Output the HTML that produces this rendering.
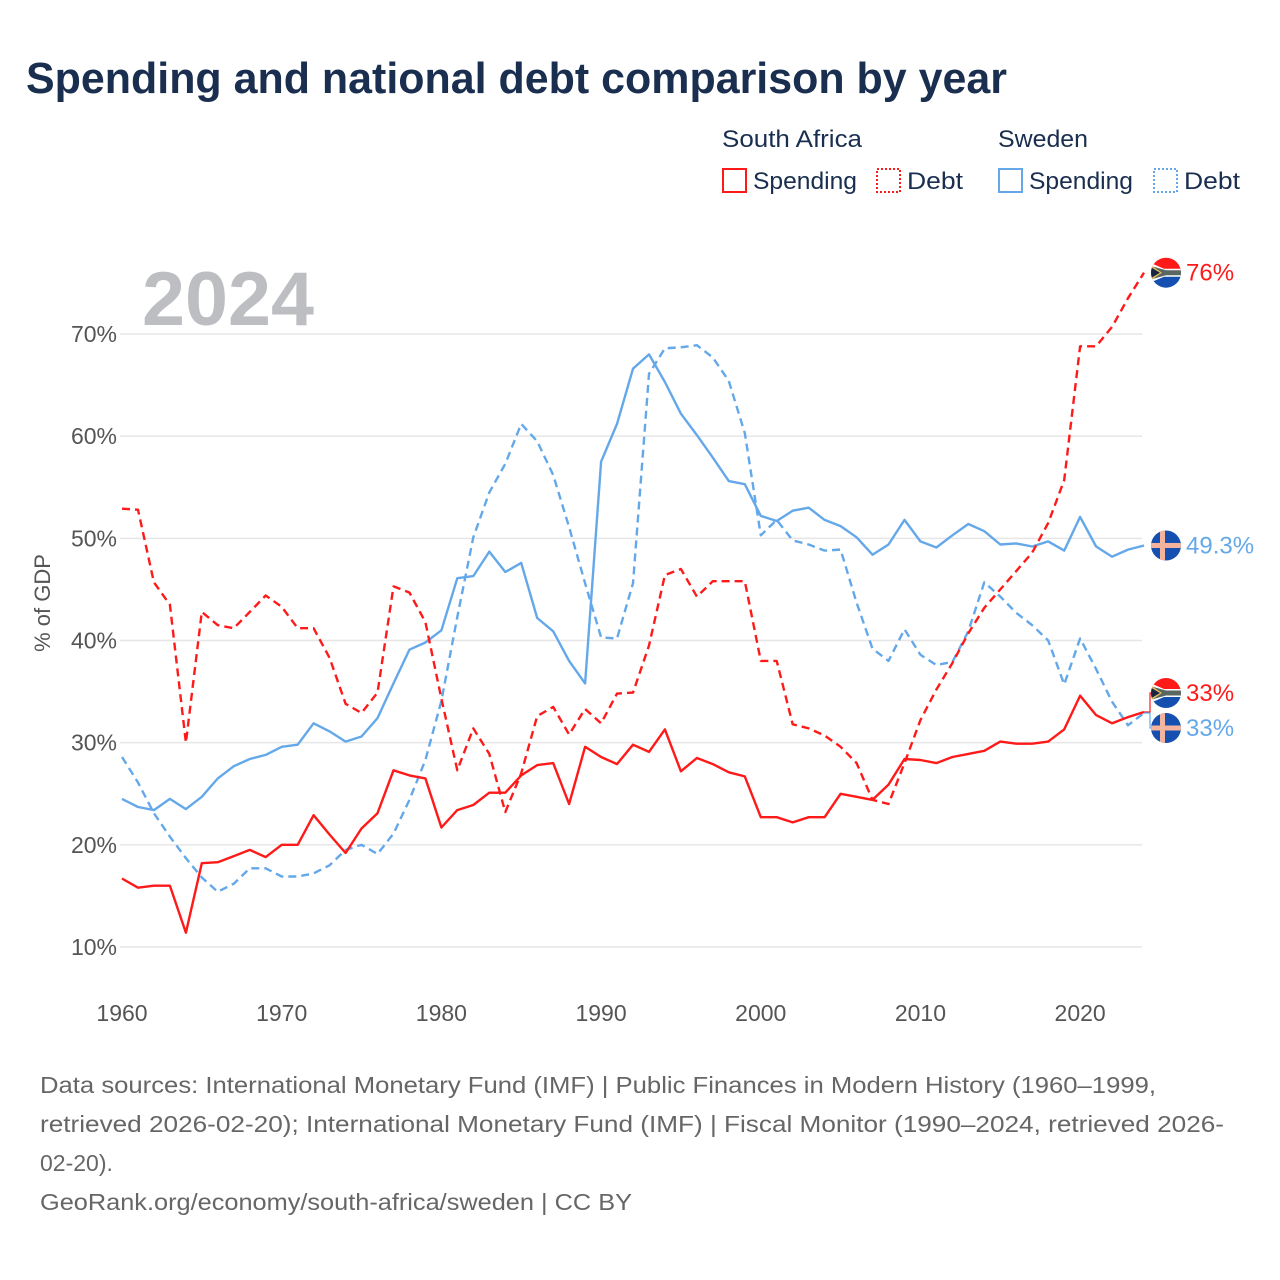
<!DOCTYPE html>
<html><head><meta charset="utf-8"><style>
html,body{margin:0;padding:0;background:#fff;}
svg{display:block;font-family:"Liberation Sans",sans-serif;}
</style></head><body>
<svg id="chart" width="1280" height="1280" viewBox="0 0 1280 1280">
<defs>
<clipPath id="fc"><circle cx="0" cy="0" r="15"/></clipPath>
<g id="flag-za">
<g clip-path="url(#fc)">
<rect x="-16" y="-16" width="32" height="16" fill="#ff1a1a"/>
<rect x="-16" y="0" width="32" height="16" fill="#1550b0"/>
<polygon points="-16,-10 -2,-4 16,-4 16,4 -2,4 -16,10" fill="#fff"/>
<polygon points="-16,-7 0,-2.5 16,-2.5 16,2.5 0,2.5 -16,7" fill="#5a6660"/>
<polygon points="-16,-8 -4,0 -16,8" fill="#e8c060"/>
<polygon points="-16,-6 -6,0 -16,6" fill="#1a2540"/>
</g></g>
<g id="flag-se">
<g clip-path="url(#fc)">
<rect x="-16" y="-16" width="32" height="32" fill="#1550b0"/>
<rect x="-16" y="-2.5" width="32" height="5" fill="#f4b39c"/>
<rect x="-6" y="-16" width="5" height="32" fill="#f4b39c"/>
</g></g>
</defs>
<text x="26" y="93" font-size="44" font-weight="bold" fill="#1a2e4f" textLength="981" lengthAdjust="spacingAndGlyphs">Spending and national debt comparison by year</text>

<g font-size="24" fill="#1a2e4f">
<text x="722" y="147" textLength="140" lengthAdjust="spacingAndGlyphs">South Africa</text>
<text x="998" y="147" textLength="90" lengthAdjust="spacingAndGlyphs">Sweden</text>
<g><rect x="723" y="169" width="23" height="23" fill="none" stroke="#ff1a1a" stroke-width="2"/><text x="753" y="189" textLength="104" lengthAdjust="spacingAndGlyphs">Spending</text></g>
<g><rect x="877" y="169" width="23" height="23" fill="none" stroke="#ff1a1a" stroke-width="2" stroke-dasharray="2,2"/><text x="907" y="189" textLength="56" lengthAdjust="spacingAndGlyphs">Debt</text></g>
<g><rect x="999" y="169" width="23" height="23" fill="none" stroke="#64a8ea" stroke-width="2"/><text x="1029" y="189" textLength="104" lengthAdjust="spacingAndGlyphs">Spending</text></g>
<g><rect x="1154" y="169" width="23" height="23" fill="none" stroke="#64a8ea" stroke-width="2" stroke-dasharray="2,2"/><text x="1184" y="189" textLength="56" lengthAdjust="spacingAndGlyphs">Debt</text></g>
</g>

<text x="142" y="325" font-size="76" font-weight="bold" fill="#bdbec1" textLength="172" lengthAdjust="spacingAndGlyphs">2024</text>
<text transform="translate(50,603) rotate(-90)" text-anchor="middle" font-size="22" fill="#555">% of GDP</text>

<g id="grid"></g>
<g id="yticks" font-size="23" fill="#555"></g>
<g id="xticks" font-size="23" fill="#555"></g>
<g id="series"></g>
<g id="endlabels" font-size="24"></g>

<g font-size="23" fill="#666">
<text x="40" y="1093" textLength="1116" lengthAdjust="spacingAndGlyphs">Data sources: International Monetary Fund (IMF) | Public Finances in Modern History (1960–1999,</text>
<text x="40" y="1132" textLength="1184" lengthAdjust="spacingAndGlyphs">retrieved 2026-02-20); International Monetary Fund (IMF) | Fiscal Monitor (1990–2024, retrieved 2026-</text>
<text x="40" y="1171">02-20).</text>
<text x="40" y="1210" textLength="592" lengthAdjust="spacingAndGlyphs">GeoRank.org/economy/south-africa/sweden | CC BY</text>
</g>
</svg>
<script>
const years = [];
for (let y = 1960; y <= 2024; y++) years.push(y);
const yTicks = [10, 20, 30, 40, 50, 60, 70];
const xTicks = [1960, 1970, 1980, 1990, 2000, 2010, 2020];
const saSpending = [16.7,15.8,16.0,16.0,11.4,18.2,18.3,18.9,19.5,18.8,20.0,20.0,22.9,21.0,19.2,21.6,23.1,27.3,26.8,26.5,
 21.7,23.4,23.9,25.1,25.1,26.8,27.8,28.0,24.0,29.6,28.6,27.9,29.8,29.1,31.3,27.2,28.5,27.9,27.1,26.7,
 22.7,22.7,22.2,22.7,22.7,25.0,24.7,24.4,25.9,28.4,28.3,28.0,28.6,28.9,29.2,30.1,29.9,29.9,30.1,31.3,
 34.6,32.7,31.9,32.5,33.0];
const saDebt = [52.9,52.8,45.7,43.5,30.0,42.8,41.5,41.2,42.8,44.4,43.3,41.2,41.2,38.3,33.8,32.9,34.9,45.3,44.7,41.8,
 34.3,27.3,31.4,28.9,23.2,27.0,32.6,33.5,30.8,33.3,31.9,34.8,34.9,39.5,46.4,47.0,44.3,45.8,45.8,45.8,
 38.0,38.0,31.8,31.4,30.7,29.6,28.0,24.4,24.0,28.0,32.2,35.2,37.8,40.7,43.2,45.0,46.8,48.6,51.5,55.7,
 68.8,68.8,70.7,73.5,76.0];
const seSpending = [24.5,23.7,23.4,24.5,23.5,24.7,26.5,27.7,28.4,28.8,29.6,29.8,31.9,31.1,30.1,30.6,32.4,35.8,39.1,39.8,
 41.0,46.1,46.3,48.7,46.7,47.6,42.2,40.9,38.0,35.8,57.5,61.2,66.6,68.0,65.3,62.2,60.1,57.9,55.6,55.3,
 52.2,51.7,52.7,53.0,51.8,51.2,50.1,48.4,49.4,51.8,49.7,49.1,50.3,51.4,50.7,49.4,49.5,49.2,49.7,48.8,
 52.1,49.2,48.2,48.9,49.3];
const seDebt = [28.6,26.1,23.1,20.8,18.7,16.8,15.4,16.2,17.7,17.7,16.9,16.9,17.2,18.0,19.5,20.0,19.1,21.1,24.4,28.3,
 34.1,42.3,50.1,54.5,57.3,61.2,59.5,56.2,51.1,45.6,40.3,40.2,45.6,66.1,68.6,68.7,68.9,67.7,65.4,60.3,
 50.3,51.8,49.8,49.4,48.8,48.9,43.7,39.2,38.0,41.1,38.6,37.6,37.9,40.9,45.7,44.3,42.7,41.5,40.0,35.7,
 40.2,37.2,34.0,31.7,32.9];

const NS = 'http://www.w3.org/2000/svg';
const X0 = 122, X1 = 1144, Y70 = 334, Y10 = 947;
function xs(yr) { return X0 + (yr - 1960) * (X1 - X0) / (2024 - 1960); }
function ys(v) { return Y10 - (v - 10) * (Y10 - Y70) / 60; }
function mk(tag, attrs, parent) {
  const e = document.createElementNS(NS, tag);
  for (const k in attrs) e.setAttribute(k, attrs[k]);
  parent.appendChild(e);
  return e;
}
const grid = document.getElementById('grid');
const yt = document.getElementById('yticks');
yTicks.forEach(t => {
  const l = mk('line', {x1: 120, x2: 1142, y1: ys(t), y2: ys(t), stroke: '#e6e6e6', 'stroke-width': 1.5}, grid);
  
  
  const tx = mk('text', {x: 117, y: ys(t) + 8, 'text-anchor': 'end'}, yt);
  tx.textContent = t + '%';
  
  
});
const xt = document.getElementById('xticks');
xTicks.forEach(t => {
  const tx = mk('text', {x: xs(t), y: 1021, 'text-anchor': 'middle'}, xt);
  tx.textContent = t;
  
  
});
const ser = document.getElementById('series');
function line(vals, color, dashed, name) {
  const d = vals.map((v, i) => (i ? 'L' : 'M') + xs(years[i]).toFixed(1) + ',' + ys(v).toFixed(1)).join(' ');
  const p = mk('path', {d: d, fill: 'none', stroke: color, 'stroke-width': 2.4, 'stroke-linejoin': 'round'}, ser);
  if (dashed) p.setAttribute('stroke-dasharray', '8,5');
  
  
}
const RED = '#ff1a1a', BLUE = '#64a8ea';
line(seDebt, BLUE, true, 'line-sweden-debt');
line(seSpending, BLUE, false, 'line-sweden-spending');
line(saDebt, RED, true, 'line-south-africa-debt');
line(saSpending, RED, false, 'line-south-africa-spending');

const el = document.getElementById('endlabels');
const last = years.length - 1;
function endLabel(val, labelY, color, flag, text, name) {
  const vy = ys(val);
  if (Math.abs(vy - labelY) > 3) {
    const c = mk('path', {d: 'M' + X1 + ',' + vy.toFixed(1) + ' L1150,' + vy.toFixed(1) + ' L1150,' + labelY + ' L1155,' + labelY, fill: 'none', stroke: color, 'stroke-width': 1.2}, el);
    
    
  }
  const u = mk('use', {href: '#' + flag, transform: 'translate(1166,' + labelY + ')'}, el);
  
  
  const t = mk('text', {x: 1186, y: labelY + 8, fill: color}, el);
  t.textContent = text;
  
  
}
endLabel(saDebt[last], ys(saDebt[last]), RED, 'flag-za', Math.round(saDebt[last]) + '%', 'sa-debt-end');
endLabel(seSpending[last], ys(seSpending[last]), BLUE, 'flag-se', seSpending[last].toFixed(1) + '%', 'se-spending-end');
endLabel(saSpending[last], 693, RED, 'flag-za', Math.round(saSpending[last]) + '%', 'sa-spending-end');
endLabel(seDebt[last], 728, BLUE, 'flag-se', Math.round(seDebt[last]) + '%', 'se-debt-end');
</script>
</body></html>
